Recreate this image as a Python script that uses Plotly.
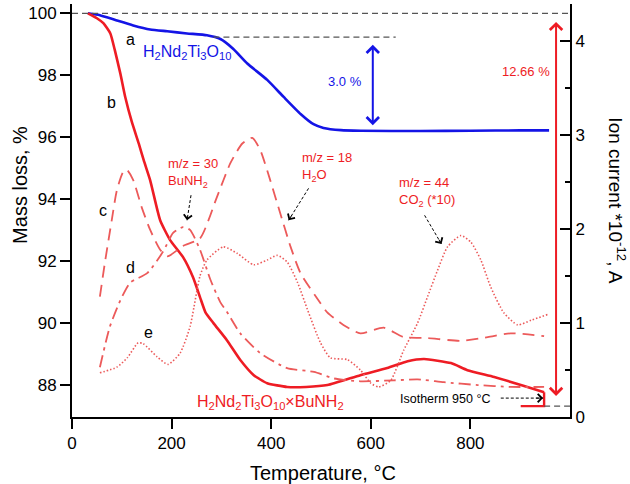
import plotly.graph_objects as go

# ---------------- data ----------------
# a: H2Nd2Ti3O10 mass loss (left axis)
T_a = [32, 56, 90, 123, 157, 191, 231, 271, 298, 324, 352, 392, 425, 459, 485, 505, 540, 580, 700, 800, 900, 958]
m_a = [100, 99.94, 99.77, 99.61, 99.48, 99.42, 99.35, 99.29, 99.17, 98.85, 98.38, 97.85, 97.3, 96.75, 96.42, 96.3, 96.23, 96.21, 96.2, 96.21, 96.22, 96.22]

# b: H2Nd2Ti3O10xBuNH2 mass loss (left axis)
T_b = [32, 50, 63, 77, 86, 97, 107, 120, 134, 144, 157, 177, 197, 223, 243, 257, 268, 284, 311, 338, 365, 392,
       432, 470, 513, 579, 633, 674, 707, 761, 794, 848, 908, 948]
m_b = [100, 99.84, 99.68, 99.35, 98.81, 98.06, 97.29, 96.5, 95.8, 95.26, 94.61, 93.32, 92.68, 92.13, 91.48, 90.84,
       90.35, 90.0, 89.45, 88.81, 88.32, 88.06, 87.94, 87.94, 88.0, 88.32, 88.55, 88.77, 88.84, 88.71, 88.48, 88.26,
       87.97, 87.77]
# isothermal step at 950 C
T_iso = [948, 948, 901]
m_iso = [87.77, 87.32, 87.32]

# c: m/z = 18 (H2O), ion current (right axis)
T_c = [56, 66, 80, 90, 103, 110, 123, 140, 157, 177, 192, 223, 257, 291, 318, 342, 362, 378, 398, 418, 439, 459,
       499, 513, 545, 579, 626, 666, 714, 781, 835, 881, 948]
i_c = [1.28, 1.64, 2.10, 2.41, 2.61, 2.63, 2.52, 2.23, 1.99, 1.78, 1.71, 1.82, 1.90, 2.34, 2.70, 2.91, 2.97, 2.84,
       2.52, 2.17, 1.81, 1.53, 1.21, 1.11, 0.98, 0.89, 0.95, 0.85, 0.84, 0.81, 0.85, 0.89, 0.86]

# d: m/z = 30 (BuNH2), ion current (right axis)
T_d = [56, 76, 97, 117, 151, 183, 203, 223, 237, 257, 278, 298, 311, 338, 378, 432, 486, 526, 579, 646, 694, 747,
       815, 881, 948]
i_d = [0.53, 0.96, 1.24, 1.43, 1.53, 1.76, 1.96, 2.02, 1.99, 1.78, 1.46, 1.22, 1.12, 0.89, 0.68, 0.52, 0.48, 0.41,
       0.38, 0.39, 0.40, 0.37, 0.34, 0.32, 0.32]

# e: m/z = 44 (CO2 *10), ion current (right axis)
T_e = [56, 90, 111, 133, 143, 171, 193, 217, 237, 257, 271, 304, 332, 365, 392, 412, 432, 453, 473, 499, 519, 553,
       579, 600, 616, 640, 666, 694, 714, 734, 754, 781, 801, 821, 841, 867, 895, 922, 955]
i_e = [0.47, 0.53, 0.63, 0.79, 0.78, 0.64, 0.56, 0.68, 0.96, 1.50, 1.67, 1.81, 1.74, 1.62, 1.67, 1.72, 1.65, 1.43,
       1.14, 0.79, 0.63, 0.61, 0.50, 0.36, 0.32, 0.39, 0.71, 1.0, 1.28, 1.56, 1.81, 1.93, 1.86, 1.67, 1.38, 1.11,
       0.98, 1.03, 1.09]

x_ticks = [0, 200, 400, 600, 800]
y_ticks = [88, 90, 92, 94, 96, 98, 100]
y2_ticks = [0, 1, 2, 3, 4]

# ---------------- styles ----------------
FONT = "Liberation Sans, Arial, sans-serif"
BLUE = "#1414e6"
RED = "#ee1c24"
LRED = "#ec5a5a"

fig = go.Figure()
fig.add_trace(go.Scatter(x=T_a, y=m_a, mode="lines", line=dict(color=BLUE, width=2.6, shape="spline", smoothing=0.5)))
fig.add_trace(go.Scatter(x=T_b, y=m_b, mode="lines", line=dict(color=RED, width=2.6, shape="spline", smoothing=0.5)))
fig.add_trace(go.Scatter(x=T_iso, y=m_iso, mode="lines", line=dict(color=RED, width=2.4)))
fig.add_trace(go.Scatter(x=T_c, y=i_c, yaxis="y2", mode="lines",
                         line=dict(color=LRED, width=1.8, dash="12px,7px", shape="spline", smoothing=0.6)))
fig.add_trace(go.Scatter(x=T_d, y=i_d, yaxis="y2", mode="lines",
                         line=dict(color=LRED, width=1.8, dash="12px,5px,3px,5px", shape="spline", smoothing=0.6)))
fig.add_trace(go.Scatter(x=T_e, y=i_e, yaxis="y2", mode="lines",
                         line=dict(color=LRED, width=1.6, dash="1.5px,2px", shape="spline", smoothing=0.6)))

shapes = []
GRAY = dict(color="#555555", width=1.2, dash="6px,4px")
shapes.append(dict(type="line", xref="x", yref="y", x0=0, x1=1000, y0=100, y1=100, line=GRAY))
shapes.append(dict(type="line", xref="x", yref="y", x0=284, x1=650, y0=99.23, y1=99.23, line=GRAY))
shapes.append(dict(type="line", xref="x", yref="y", x0=948, x1=1000, y0=87.32, y1=87.32, line=GRAY))

annotations = []


def txt(x, y, text, color="black", size=15, xanchor="center", align="center"):
    annotations.append(dict(x=x, y=y, xref="x", yref="y", text=text, showarrow=False,
                            font=dict(family=FONT, size=size, color=color), xanchor=xanchor, yanchor="middle",
                            align=align))


def dashed_arrow(x0, y0, x1, y1):
    shapes.append(dict(type="line", xref="x", yref="y", x0=x0, y0=y0, x1=x1, y1=y1,
                       line=dict(color="black", width=1, dash="3px,2px")))
    fx = x0 + (x1 - x0) * 0.8
    fy = y0 + (y1 - y0) * 0.8
    annotations.append(dict(x=x1, y=y1, ax=fx, ay=fy, xref="x", yref="y", axref="x", ayref="y", text="",
                            showarrow=True, arrowhead=4, arrowsize=1.6, arrowwidth=1, arrowcolor="black"))


txt(117, 99.16, "a", size=16)
txt(80, 97.13, "b", size=16)
txt(62, 93.65, "c", size=16)
txt(117, 91.81, "d", size=16)
txt(153, 89.71, "e", size=16)
txt(231, 98.74, "H<sub>2</sub>Nd<sub>2</sub>Ti<sub>3</sub>O<sub>10</sub>", BLUE, 16)
txt(398, 87.45, "H<sub>2</sub>Nd<sub>2</sub>Ti<sub>3</sub>O<sub>10</sub>×BuNH<sub>2</sub>", RED, 16)
txt(549, 97.81, "3.0 %", BLUE, 13)
txt(911, 98.13, "12.66 %", RED, 13)
txt(189, 94.84, "m/z = 30<br>BuNH<sub>2</sub>", RED, 13, "left", "left")
txt(457, 95.03, "m/z = 18<br>H<sub>2</sub>O", RED, 13, "left", "left")
txt(652, 94.24, "m/z = 44<br>CO<sub>2</sub> (*10)", RED, 13, "left", "left")
txt(655, 87.56, "Isotherm 950 °C", "black", 12.5, "left")

dashed_arrow(239, 94.13, 231, 93.32)
dashed_arrow(475, 94.35, 435, 93.32)
dashed_arrow(708, 93.48, 742, 92.55)
dashed_arrow(861, 87.58, 946, 87.58)

# double-headed arrows
annotations.append(dict(x=604, y=96.39, ax=604, ay=99.03, xref="x", yref="y", axref="x", ayref="y", text="",
                        showarrow=True, arrowhead=4, arrowside="end+start", arrowsize=1.2, arrowwidth=2,
                        arrowcolor=BLUE))
annotations.append(dict(x=972, y=87.65, ax=972, ay=99.77, xref="x", yref="y", axref="x", ayref="y", text="",
                        showarrow=True, arrowhead=4, arrowside="end+start", arrowsize=1.2, arrowwidth=2,
                        arrowcolor=RED))

# axis titles as annotations (precise placement)
annotations.append(dict(x=1.094, y=0.525, xref="paper", yref="paper", text="Ion current *10<sup>-12</sup>, A",
                        showarrow=False, textangle=90, font=dict(family=FONT, size=19, color="black"),
                        xanchor="center", yanchor="middle"))
annotations.append(dict(x=-0.1044, y=0.562, xref="paper", yref="paper", text="Mass loss, %",
                        showarrow=False, textangle=-90, font=dict(family=FONT, size=20, color="black"),
                        xanchor="center", yanchor="middle"))
annotations.append(dict(x=0.504, y=-0.1356, xref="paper", yref="paper", text="Temperature, °C",
                        showarrow=False, font=dict(family=FONT, size=20, color="black"),
                        xanchor="center", yanchor="middle"))

axis_common = dict(showline=True, linecolor="black", linewidth=2, showgrid=False, zeroline=False,
                   automargin=False,
                   tickcolor="black", tickwidth=2, tickfont=dict(family=FONT, size=17, color="black"))

fig.update_layout(
    width=630, height=484,
    margin=dict(l=72, r=60, t=4, b=67, autoexpand=False),
    paper_bgcolor="white", plot_bgcolor="white",
    showlegend=False,
    font=dict(family=FONT, color="black"),
    xaxis=dict(range=[0, 1000], tickvals=x_ticks, ticks="outside", ticklen=10, **axis_common),
    yaxis=dict(range=[86.97, 100.3], tickvals=y_ticks, ticks="outside", ticklen=10, **axis_common),
    yaxis2=dict(range=[0, 4.394], tickvals=y2_ticks, ticks="inside", ticklen=10, overlaying="y", side="right",
                minor=dict(ticks="inside", dtick=0.5, ticklen=5, tickwidth=2, tickcolor="black"),
                **axis_common),
    shapes=shapes,
    annotations=annotations,
)

fig.write_html("out.html", config={"displayModeBar": False},
               post_script="document.body.style.margin='0';document.body.style.overflow='hidden';")
